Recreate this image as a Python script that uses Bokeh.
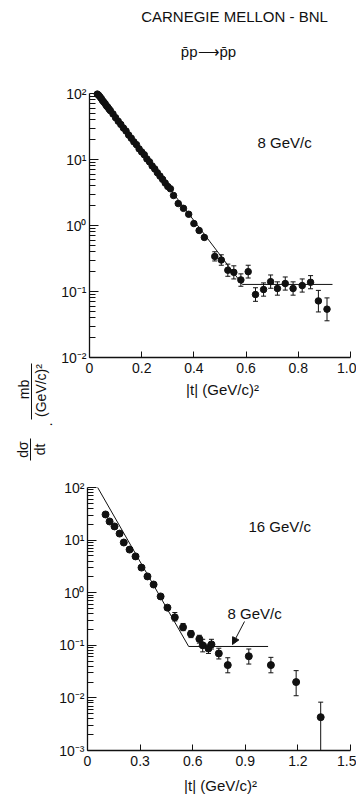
import math

from bokeh.embed import file_html
from bokeh.layouts import column
from bokeh.models import (Arrow, ColumnDataSource, FixedTicker, Label,
                          NormalHead, Range1d, TeeHead, Whisker)
from bokeh.plotting import figure
from bokeh.resources import INLINE

# ---------------------------------------------------------------- data
# pbar p elastic scattering, 8 GeV/c: |t| in (GeV/c)^2, dsigma/dt in mb/(GeV/c)^2
t8 = [0.030, 0.035, 0.040, 0.045, 0.050, 0.055, 0.060, 0.065, 0.070, 0.075,
      0.080, 0.090, 0.100, 0.110, 0.120, 0.130, 0.140, 0.150, 0.160, 0.170,
      0.180, 0.190, 0.200, 0.210, 0.220, 0.230, 0.240, 0.250, 0.260, 0.270,
      0.280, 0.290, 0.300, 0.310, 0.322, 0.340, 0.360, 0.380, 0.400, 0.420,
      0.440]
ds8 = [98.0, 94.0, 89.0, 84.0, 78.0, 74.0, 70.0, 65.0, 62.0, 58.0,
       55.0, 49.0, 43.0, 38.0, 34.0, 30.0, 27.0, 23.5, 21.0, 18.5,
       16.8, 14.5, 13.0, 11.8, 10.2, 9.2, 8.0, 7.2, 6.3, 5.6,
       5.0, 4.4, 3.9, 3.6, 2.85, 2.15, 1.82, 1.48, 1.07, 0.84,
       0.66]
# 8 GeV/c points shown with error bars
t8_err = [0.480, 0.505, 0.530, 0.553, 0.580, 0.608, 0.636, 0.667, 0.694,
          0.720, 0.750, 0.780, 0.815, 0.847, 0.877, 0.910]
ds8_err = [0.34, 0.30, 0.21, 0.195, 0.15, 0.20, 0.090, 0.107, 0.141,
           0.111, 0.132, 0.111, 0.123, 0.138, 0.072, 0.054]
lo8 = [0.29, 0.25, 0.17, 0.155, 0.12, 0.16, 0.071, 0.085, 0.112,
       0.088, 0.105, 0.088, 0.098, 0.110, 0.049, 0.036]
hi8 = [0.40, 0.36, 0.26, 0.245, 0.185, 0.25, 0.114, 0.135, 0.178,
       0.140, 0.166, 0.140, 0.155, 0.174, 0.104, 0.080]
# 8 GeV/c fitted curve
fit8_t = [0.030, 0.586, 0.931]
fit8_ds = [100.0, 0.128, 0.128]

# pbar p elastic scattering, 16 GeV/c
t16 = [0.103, 0.126, 0.154, 0.183, 0.207, 0.240, 0.274, 0.308, 0.342,
       0.377, 0.417, 0.456]
ds16 = [30.7, 22.6, 18.2, 13.3, 9.0, 6.6, 4.9, 3.0, 2.04, 1.43, 0.85, 0.52]
t16_err = [0.498, 0.545, 0.590, 0.638, 0.657, 0.690, 0.707, 0.749, 0.800,
           0.920, 1.046, 1.190, 1.330]
ds16_err = [0.34, 0.22, 0.165, 0.132, 0.10, 0.087, 0.104, 0.070, 0.042,
            0.062, 0.042, 0.020, 0.0043]
lo16 = [0.29, 0.19, 0.14, 0.11, 0.075, 0.070, 0.085, 0.055, 0.030,
        0.044, 0.030, 0.011, 0.001]
hi16 = [0.42, 0.26, 0.19, 0.155, 0.13, 0.105, 0.13, 0.088, 0.058,
        0.085, 0.059, 0.033, 0.0083]
# 8 GeV/c curve repeated on the 16 GeV/c panel
fit16_t = [0.058, 0.577, 1.030]
fit16_ds = [100.0, 0.095, 0.095]

# ---------------------------------------------------------------- ticks
top_decades = [1e-2, 1e-1, 1.0, 1e1, 1e2]
bottom_decades = [1e-3, 1e-2, 1e-1, 1.0, 1e1, 1e2]
decade_labels = {1e-3: "10\u207b\u00b3", 1e-2: "10\u207b\u00b2",
                 1e-1: "10\u207b\u00b9", 1.0: "10\u2070",
                 1e1: "10\u00b9", 1e2: "10\u00b2"}
top_x_ticks = [0, 0.2, 0.4, 0.6, 0.8, 1.0]
top_x_labels = ["0", "0.2", "0.4", "0.6", "0.8", "1.0"]
bottom_x_ticks = [0, 0.3, 0.6, 0.9, 1.2, 1.5]
bottom_x_labels = ["0", "0.3", "0.6", "0.9", "1.2", "1.5"]

FONT = "Liberation Sans"
INK = "#111111"
W = 356


class Panel:
    """A figure whose plotting area fills its whole canvas; the axes are
    pinned at the data origin so titles and notes can sit around them."""

    def __init__(self, height, page_top, left, top, fw, fh, xmax, ylo, yhi):
        self.page_top = page_top
        self.left, self.top, self.fw, self.fh = left, top, fw, fh
        self.xmax = xmax
        self.lo, self.hi = math.log10(ylo), math.log10(yhi)
        x0, y_top = self.to_data(0, page_top)
        x1, y_bot = self.to_data(W, page_top + height)
        p = figure(width=W, height=height, x_range=Range1d(x0, x1),
                   y_range=Range1d(y_bot, y_top), y_axis_type="log",
                   output_backend="svg", toolbar_location=None,
                   min_border=0, min_border_left=0, min_border_right=0,
                   min_border_top=0, min_border_bottom=0)
        p.outline_line_color = None
        p.grid.visible = False
        p.background_fill_color = "white"
        p.border_fill_color = "white"
        self.p = p
        self.ylo, self.yhi = ylo, yhi

    def to_data(self, px, py):
        x = (px - self.left) / self.fw * self.xmax
        y = 10 ** (self.hi - (py - self.page_top - self.top) / self.fh * (self.hi - self.lo))
        return x, y

    def axes(self, xticks, xlabels, decades):
        p = self.p
        xa = p.xaxis[0]
        xa.fixed_location = self.ylo
        xa.bounds = (0, self.xmax)
        xa.ticker = FixedTicker(ticks=xticks)
        xa.major_label_overrides = dict(zip(xticks, xlabels))
        xa.major_tick_in = 6
        xa.major_tick_out = 0
        xa.minor_tick_line_color = None
        xa.axis_line_width = 1.3
        xa.axis_line_color = INK
        xa.major_tick_line_color = INK
        xa.major_label_standoff = 5
        xa.major_label_text_font = FONT
        xa.major_label_text_font_size = "14px"
        xa.major_label_text_color = INK

        ya = p.yaxis[0]
        ya.fixed_location = 0
        ya.bounds = (self.ylo, self.yhi)
        minors = [d * k for d in decades[:-1] for k in range(2, 10)]
        ya.ticker = FixedTicker(ticks=decades, minor_ticks=minors)
        ya.major_label_overrides = {d: decade_labels[d] for d in decades}
        ya.major_tick_in = 9
        ya.major_tick_out = 0
        ya.minor_tick_in = 6
        ya.minor_tick_out = 0
        ya.axis_line_width = 1.3
        ya.axis_line_color = INK
        ya.major_tick_line_color = INK
        ya.minor_tick_line_color = INK
        ya.major_label_standoff = 3
        ya.major_label_text_font = FONT
        ya.major_label_text_font_size = "14px"
        ya.major_label_text_color = INK

    def text(self, px, py, s, size="15px", align="center", angle=0.0):
        x, y = self.to_data(px, py)
        self.p.add_layout(Label(x=x, y=y, text=s, text_font=FONT,
                                text_font_size=size, text_color=INK,
                                text_align=align, text_baseline="middle",
                                angle=angle))

    def bar(self, a, b, end=None):
        (x0, y0), (x1, y1) = self.to_data(*a), self.to_data(*b)
        self.p.add_layout(Arrow(x_start=x0, y_start=y0, x_end=x1, y_end=y1,
                                start=None, end=end, line_color=INK,
                                line_width=1))

    def points(self, t, ds, size):
        self.p.scatter(t, ds, size=size, marker="circle",
                       fill_color=INK, line_color=INK)

    def error_points(self, t, ds, lo, hi, size):
        src = ColumnDataSource(dict(t=t, ds=ds, lo=lo, hi=hi))
        self.p.add_layout(Whisker(
            source=src, base="t", lower="lo", upper="hi",
            line_color=INK, line_width=1,
            lower_head=TeeHead(size=5, line_color=INK, line_width=1),
            upper_head=TeeHead(size=5, line_color=INK, line_width=1)))
        self.p.scatter("t", "ds", source=src, size=size, marker="circle",
                       fill_color=INK, line_color=INK)


# ---------------------------------------------------------------- 8 GeV/c panel
top = Panel(470, 0, 89, 93, 261, 264, 1.0, 1e-2, 1e2)
top.axes(top_x_ticks, top_x_labels, top_decades)
top.p.line(fit8_t, fit8_ds, line_color=INK, line_width=1)
top.points(t8, ds8, 6.5)
top.error_points(t8_err, ds8_err, lo8, hi8, 6.5)

top.text(234, 16, "CARNEGIE MELLON - BNL")
top.text(208, 51, "p\u0304p\u27f6p\u0304p")
top.text(257, 142, "8 GeV/c", align="left")
top.text(222, 389, "|t| (GeV/c)\u00b2")

# vertical axis title: dsigma/dt . mb/(GeV/c)^2, read bottom to top
up = math.pi / 2
top.text(22, 449, "d\u03c3", size="14px", angle=up)
top.bar((30, 438), (30, 460))
top.text(39, 449, "dt", size="14px", angle=up)
top.text(49, 424, "\u00b7", size="14px", angle=up)
top.text(23, 389, "mb", size="14px", angle=up)
top.bar((31, 363), (31, 419))
top.text(40, 390, "(GeV/c)\u00b2", size="14px", angle=up)

# ---------------------------------------------------------------- 16 GeV/c panel
bottom = Panel(326, 470, 87, 17, 263, 263, 1.5, 1e-3, 1e2)
bottom.axes(bottom_x_ticks, bottom_x_labels, bottom_decades)
bottom.p.line(fit16_t, fit16_ds, line_color=INK, line_width=1)
bottom.points(t16, ds16, 7)
bottom.error_points(t16_err, ds16_err, lo16, hi16, 7)

bottom.text(248, 526, "16 GeV/c", align="left")
bottom.text(227, 613, "8 GeV/c", align="left")
bottom.bar((244, 621), (232, 644),
           end=NormalHead(size=7, fill_color=INK, line_color=INK))
bottom.text(220, 785, "|t| (GeV/c)\u00b2")

layout = column(top.p, bottom.p, spacing=0)
open("out.html", "w").write(file_html(layout, INLINE))
